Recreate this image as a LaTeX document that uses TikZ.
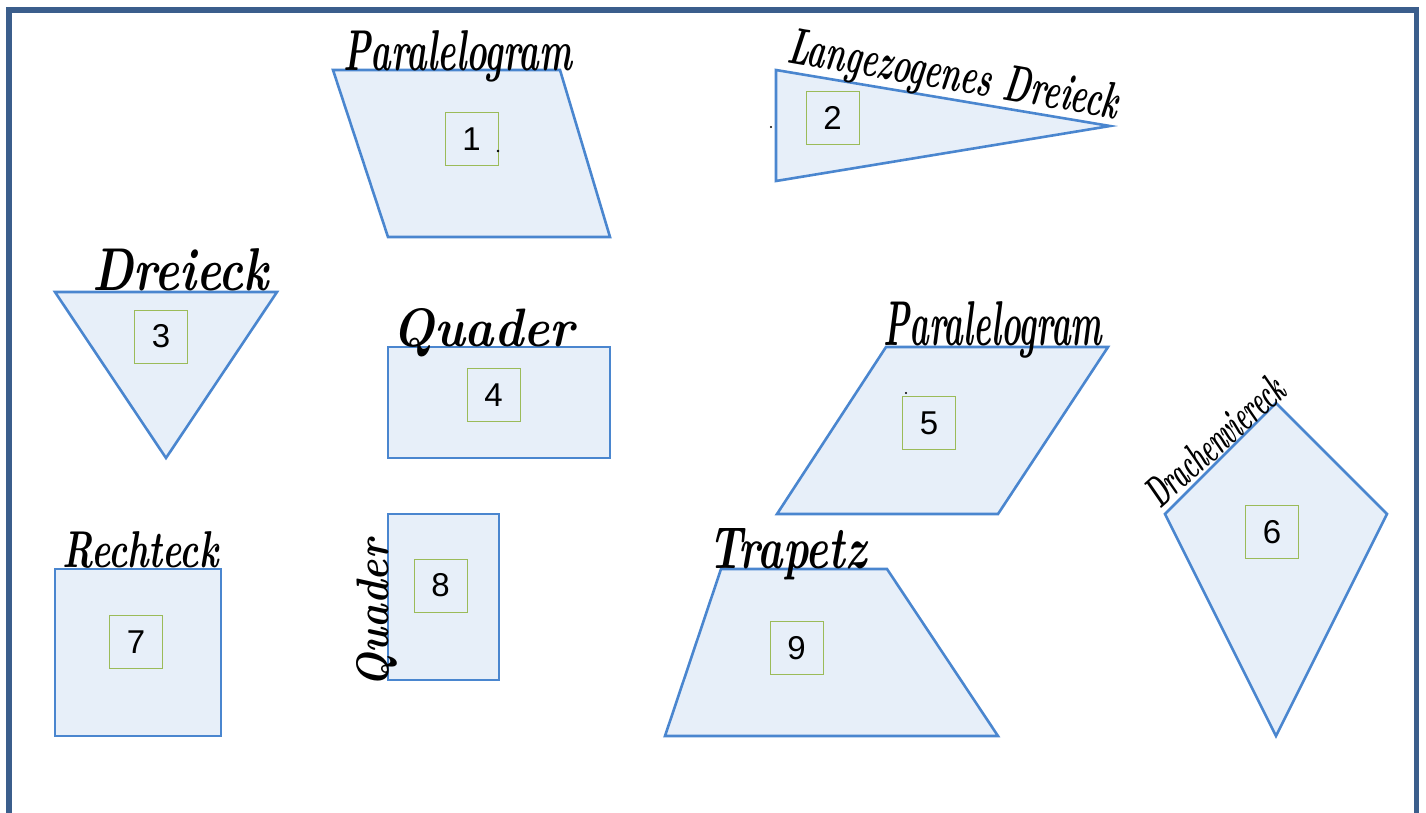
\documentclass[tikz,border=0pt]{standalone}
\usepackage{fontspec}
\usepackage{graphicx}
\newfontfamily\numfont{Liberation Sans}
\definecolor{frameblue}{HTML}{3B5E8C}
\definecolor{shapeline}{HTML}{4A86CF}
\definecolor{shapefill}{HTML}{E7EFF9}
\definecolor{boxgreen}{HTML}{9BBB59}
\newcommand{\hwtext}[3]{\resizebox{#1}{#2}{\bfseries\itshape #3}}
\tikzset{
  figshape/.style={draw=shapeline, fill=shapefill, line width=2.6pt, line join=miter},
  numbox/.style={draw=boxgreen, line width=0.9pt, minimum width=53pt, minimum height=53pt, inner sep=0pt, font=\numfont\fontsize{33}{33}\selectfont, text=black},
  hw/.style={anchor=base west, inner sep=0pt, text=black},
  dotmark/.style={fill=black, draw=none}
}
\begin{document}
\begin{tikzpicture}[x=1pt,y=-1pt]
\useasboundingbox (0,0) rectangle (1426,812);
\fill[white] (0,0) rectangle (1426,812);
% frame
\draw[frameblue, line width=5.5pt, line join=miter] (9.2,815) -- (9.2,10) -- (1416.5,10) -- (1416.5,815);

% 1 parallelogram
\draw[figshape] (333,70) -- (560,70) -- (610,237) -- (388,237) -- cycle;
\node[numbox] (n1) at (471.5,139) {1};
\fill[dotmark] (498,151) circle (1.3pt);
\node[hw] (l1) at (343,70) {\hwtext{229pt}{40pt}{Paralelogram}};

% 2 long triangle
\draw[figshape] (776,70) -- (1110,126) -- (776,181) -- cycle;
\node[numbox] (n2) at (832.5,117.5) {2};
\fill[dotmark] (771,127) circle (1.2pt);
\node[hw, rotate=-9.8] (l2) at (786,62) {\hwtext{334pt}{36pt}{Langezogenes Dreieck}};

% 3 inverted triangle
\draw[figshape] (55,292) -- (277,292) -- (166,458) -- cycle;
\node[numbox] (n3) at (161,336.5) {3};
\node[hw] (l3) at (92,290) {\hwtext{176pt}{42pt}{Dreieck}};

% 4 rectangle
\draw[figshape] (388,347) rectangle (610,458);
\node[numbox] (n4) at (493.5,395) {4};
\node[hw] (l4) at (392,346) {\hwtext{182pt}{38pt}{Quader}};

% 5 parallelogram
\draw[figshape] (886,347) -- (1108,347) -- (998,514) -- (777,514) -- cycle;
\node[numbox] (n5) at (929,423) {5};
\fill[dotmark] (906,393) circle (1.2pt);
\node[hw] (l5) at (883,345) {\hwtext{219pt}{44pt}{Paralelogram}};

% 6 kite
\draw[figshape] (1276,403) -- (1387,514) -- (1276,736) -- (1165,514) -- cycle;
\node[numbox] (n6) at (1272,532) {6};
\node[hw, rotate=42] (l6) at (1160,510) {\hwtext{172pt}{30pt}{Drachenviereck}};

% 7 square
\draw[figshape] (55,569) rectangle (221,736);
\node[numbox] (n7) at (136,642) {7};
\node[hw] (l7) at (62,567) {\hwtext{156pt}{36pt}{Rechteck}};

% 8 tall rectangle
\draw[figshape] (388,514) rectangle (499,680);
\node[numbox] (n8) at (440.5,585.5) {8};
\node[hw, rotate=90] (l8) at (388,688) {\hwtext{148pt}{32pt}{Quader}};

% 9 trapezoid
\draw[figshape] (721,569) -- (887,569) -- (998,736) -- (665,736) -- cycle;
\node[numbox] (n9) at (796.5,648) {9};
\node[hw] (l9) at (708,568) {\hwtext{158pt}{40pt}{Trapetz}};
\end{tikzpicture}
\end{document}
